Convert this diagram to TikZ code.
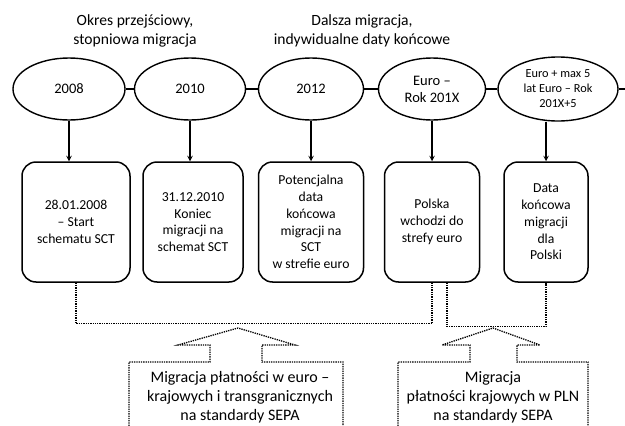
\documentclass[tikz,border=0pt]{standalone}
\usepackage{fontspec}
\setmainfont{Carlito}
\usetikzlibrary{shapes.geometric, arrows}
\tikzstyle{year} = [ellipse, draw=black, line width=1.4pt, inner sep=0pt, minimum height=62pt, align=center, font=\fontsize{14.5}{17}\selectfont]
\tikzstyle{event} = [rectangle, rounded corners=14pt, draw=black, line width=1.5pt, minimum height=120pt, inner sep=0pt, align=center, font=\fontsize{13.7}{16.7}\selectfont]
\tikzstyle{header} = [align=center, font=\fontsize{15.6}{19.5}\selectfont]
\tikzstyle{note} = [align=center, font=\fontsize{16}{19}\selectfont]
\tikzstyle{link} = [line width=1.4pt]
\tikzstyle{arrow} = [line width=1.4pt,->,>=stealth]
\tikzstyle{bracket} = [line width=1.3pt, densely dotted]

\begin{document}
\begin{tikzpicture}[x=1pt, y=-1pt, node distance=121pt]
    \useasboundingbox (0,0) rectangle (625,426);

    \node (h1) [header] at (135,31) {Okres przejściowy,\\stopniowa migracja};
    \node (h2) [header] at (362,31) {Dalsza migracja,\\indywidualne daty końcowe};

    \node (e1) [year, minimum width=112pt] at (69,89) {2008};
    \node (e2) [year, minimum width=111pt, right of=e1] {2010};
    \node (e3) [year, minimum width=105pt, right of=e2] {2012};
    \node (e4) [year, minimum width=107pt, right of=e3] {Euro –\\Rok 201X};
    \node (e5) [year, minimum width=120pt, minimum height=64pt, right of=e4, xshift=5pt, font=\fontsize{12.3}{15}\selectfont] {Euro + max 5\\lat Euro – Rok\\201X+5};
    \coordinate (tail) at (625,89);

    \node (b1) [event, minimum width=108pt, below of=e1, xshift=7pt, yshift=-12pt] {28.01.2008\\– Start\\schematu SCT};
    \node (b2) [event, minimum width=100pt, below of=e2, xshift=3pt, yshift=-12pt] {31.12.2010\\Koniec\\migracji na\\schemat SCT};
    \node (b3) [event, minimum width=105pt, below of=e3, yshift=-12pt] {Potencjalna\\data\\końcowa\\migracji na\\SCT\\w strefie euro};
    \node (b4) [event, minimum width=95pt, below of=e4, yshift=-12pt] {Polska\\wchodzi do\\strefy euro};
    \node (b5) [event, minimum width=84pt, below of=e5, xshift=-12pt, yshift=-12pt] {Data\\końcowa\\migracji\\dla\\Polski};

    \node (n1) [note] at (240,397) {Migracja płatności w euro –\\krajowych i transgranicznych\\na standardy SEPA};
    \node (n2) [note] at (493,397) {Migracja\\płatności krajowych w PLN\\na standardy SEPA};

    \draw [link] (e1) -- (e2);
    \draw [link] (e2) -- (e3);
    \draw [link] (e3) -- (e4);
    \draw [link] (e4) -- (e5);
    \draw [link] (e5) -- (tail);

    \draw [arrow] (e1) -- (e1 |- b1.north);
    \draw [arrow] (e2) -- (e2 |- b2.north);
    \draw [arrow] (e3) -- (e3 |- b3.north);
    \draw [arrow] (e4) -- (e4 |- b4.north);
    \draw [arrow] (b5.north |- e5.south) -- (b5.north);

    \draw [bracket] (b1.south) -- ++(0,41) -| (b4.south);
    \draw [bracket] ([xshift=15pt]b4.south) -- ++(0,44) -| (b5.south);

    \draw [bracket] (129,426) -- (129,362) -- (210,362) -- (210,345) -- (178,345) -- (238,328) -- (295,345) -- (262,345) -- (262,362) -- (343,362) -- (343,426);
    \draw [bracket] (398,426) -- (398,362) -- (470,362) -- (470,345) -- (442,345) -- (493,328) -- (540,345) -- (517,345) -- (517,362) -- (588,362) -- (588,426);

\end{tikzpicture}
\end{document}
